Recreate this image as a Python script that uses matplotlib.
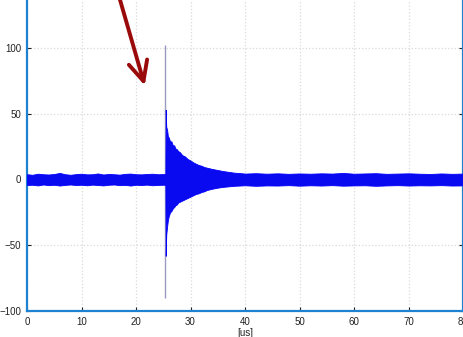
import matplotlib.pyplot as plt
import numpy as np

t_env = [0, 1, 2, 3, 4, 5, 6, 7, 8, 9, 10, 11, 12, 13, 14, 15, 16, 17, 18, 19,
         20, 21, 22, 23, 24, 25, 25.4,
         25.45, 25.55, 25.7, 25.85, 26.0, 26.25, 26.5, 26.75, 27, 27.25, 27.5,
         27.75, 28, 28.5, 29, 29.5, 30, 30.5, 31, 31.5, 32, 32.5, 33,
         34, 35, 36, 37, 38, 39, 40,
         42, 44, 46, 48, 50, 52, 54, 56, 58, 60, 62, 64, 66, 68, 70, 72, 74, 76,
         78, 80]
upper = [4.0, 3.6, 4.4, 4.0, 3.8, 4.2, 5.0, 4.0, 3.6, 4.1, 4.4, 3.9, 4.0, 4.6,
         3.8, 4.2, 4.0, 3.7, 4.3, 4.5, 4.0, 3.9, 4.2, 4.4, 4.0, 4.1, 4.0,
         53, 40, 38, 33, 32, 29, 29, 26, 26, 23.5, 23, 21.5, 21, 18.5, 17.5, 15.5,
         14.5, 13, 12, 11, 10.5, 9.5, 9.0,
         8.0, 7.2, 6.4, 5.8, 5.2, 4.9, 4.5,
         4.8, 4.4, 4.7, 4.3, 4.6, 4.4, 4.7, 4.5, 5.0, 4.4, 4.6, 4.8, 4.3, 4.5,
         4.7, 4.4, 4.2, 4.6, 4.3, 4.5]
lower = [-4.2, -4.0, -4.5, -3.8, -4.3, -4.0, -4.6, -4.1, -3.8, -4.2, -4.0, -4.4,
         -3.9, -4.2, -4.5, -4.0, -3.8, -4.3, -4.1, -4.6, -4.0, -4.2, -3.9, -4.4,
         -4.1, -4.0, -4.0,
         -58, -42, -36, -31, -28, -25, -24, -22, -21, -19.5, -19, -17.5, -17,
         -16, -15, -14, -13, -12, -11, -10.5, -9.5, -9.0, -8.0,
         -7.0, -6.2, -5.6, -5.2, -4.8, -4.6, -4.4,
         -4.8, -4.5, -4.6, -4.3, -4.7, -4.4, -4.6, -4.3, -4.7, -4.5, -4.4, -4.8,
         -4.5, -4.3, -4.6, -4.4, -4.5, -4.3, -4.6, -4.5]

# single-sample spike at the trigger
spike_t = 25.4
spike_min = -90
spike_max = 102

# arrow pointing at the onset
arrow_tail = (16.9, 139)
arrow_tip = (21.6, 71.5)

xticks = [0, 10, 20, 30, 40, 50, 60, 70, 80]
yticks = [-100, -50, 0, 50, 100]

plt.rcParams['font.family'] = ['Liberation Sans', 'DejaVu Sans']
fig = plt.figure(figsize=(4.64, 3.37), dpi=100)
ax = fig.add_axes([27 / 464, 26 / 337, 436 / 464, 1 - 26 / 337])

ax.vlines(spike_t, spike_min, spike_max, color='#9a9ac0', lw=1.0, zorder=2)
ax.fill_between(t_env, lower, upper, color='#0a0af0', lw=0.6, edgecolor='#0000ff', zorder=3)

ax.set_xlim(0, 80)
ax.set_ylim(-100, 136.5)
ax.set_xticks(xticks)
ax.set_yticks(yticks)
ax.tick_params(direction='in', length=3, labelsize=7, colors='#222222',
               right=True, top=False, pad=4)
ax.grid(True, color='#dadada', linestyle=':', lw=0.9)
ax.set_xlabel('[us]', fontsize=7, labelpad=1, color='#222222')

for side in ['left', 'right', 'bottom']:
    ax.spines[side].set_color('#1e82d2')
    ax.spines[side].set_linewidth(1.6)
ax.spines['top'].set_visible(False)

ax.annotate('', xy=arrow_tip, xytext=arrow_tail, annotation_clip=False,
            arrowprops=dict(arrowstyle='->, head_length=0.75, head_width=0.36',
                            color='#9a0a0a', lw=2.8, mutation_scale=19,
                            shrinkA=0, shrinkB=0))

fig.savefig('out.png', dpi=100)
